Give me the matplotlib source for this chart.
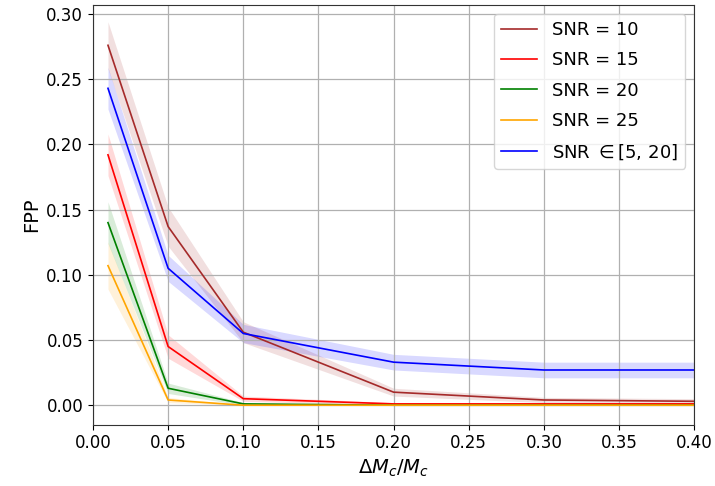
import matplotlib
matplotlib.use("Agg")
import matplotlib.pyplot as plt
import numpy as np

# fractional chirp-mass offsets
dm = [0.01, 0.05, 0.10, 0.20, 0.30, 0.40]

labels = ["SNR = 10", "SNR = 15", "SNR = 20", "SNR = 25", r"SNR $\in[5,\,20]$"]
colors = ["brown", "red", "green", "orange", "blue"]

fpp_10 = [0.276, 0.137, 0.056, 0.010, 0.004, 0.003]
fpp_15 = [0.192, 0.045, 0.005, 0.001, 0.001, 0.001]
fpp_20 = [0.140, 0.013, 0.001, 0.000, 0.000, 0.000]
fpp_25 = [0.107, 0.004, 0.000, 0.000, 0.000, 0.000]
fpp_range = [0.243, 0.105, 0.055, 0.033, 0.027, 0.027]

err_10 = [0.018, 0.015, 0.008, 0.003, 0.002, 0.002]
err_15 = [0.016, 0.009, 0.002, 0.001, 0.001, 0.001]
err_20 = [0.016, 0.004, 0.001, 0.000, 0.000, 0.000]
err_25 = [0.018, 0.002, 0.000, 0.000, 0.000, 0.000]
err_range = [0.016, 0.010, 0.007, 0.006, 0.006, 0.006]

series = [fpp_10, fpp_15, fpp_20, fpp_25, fpp_range]
errors = [err_10, err_15, err_20, err_25, err_range]

fig = plt.figure(figsize=(7.15, 4.86), dpi=100)
ax = fig.add_axes([0.130, 0.126, 0.841, 0.864])

for y, e, c, lab in zip(series, errors, colors, labels):
    y = np.array(y)
    e = np.array(e)
    ax.plot(dm, y, color=c, lw=1.2, label=lab)
    ax.fill_between(dm, y - e, y + e, color=c, alpha=0.15, lw=0)

ax.set_xlim(0, 0.40)
ax.set_ylim(-0.015, 0.307)
ax.set_xticks(np.arange(0, 0.41, 0.05))
ax.set_yticks(np.arange(0, 0.31, 0.05))
ax.tick_params(labelsize=12)
ax.grid(True, color="#b0b0b0", lw=0.9)
ax.set_xlabel(r"$\Delta M_c/M_c$", fontsize=14)
ax.set_ylabel("FPP", fontsize=14)
for s in ax.spines.values():
    s.set_color("#333333")
ax.legend(loc="upper right", fontsize=13, labelspacing=0.68)

fig.savefig("out.png", dpi=100)
